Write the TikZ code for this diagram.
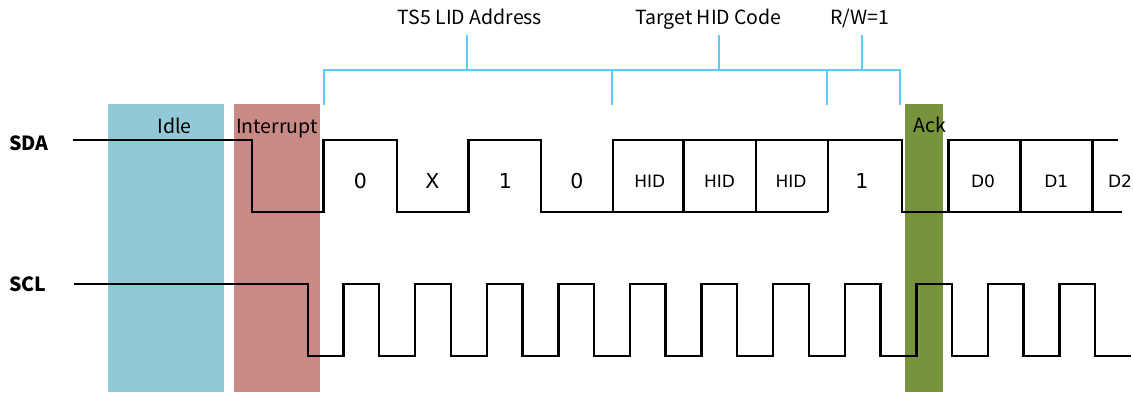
\documentclass[tikz,border=0pt]{standalone}
\usepackage{fontspec}
\setmainfont{Noto Sans CJK SC}
\newfontfamily\bitfont{DejaVu Sans}
\definecolor{idlec}{RGB}{146,201,214}
\definecolor{intc}{RGB}{201,138,133}
\definecolor{ackc}{RGB}{119,147,60}
\definecolor{brc}{RGB}{94,203,245}
\begin{document}
\begin{tikzpicture}[x=1pt,y=-1pt,
  sig/.style={line width=2.5pt,line join=miter,black},
  brk/.style={line width=2.4pt,brc},
  lab/.style={anchor=base,inner sep=0pt,font=\fontsize{19.5}{23}\selectfont},
  signame/.style={anchor=base west,inner sep=0pt,font=\fontsize{19.5}{23}\selectfont\bfseries},
  bit/.style={anchor=base,inner sep=0pt,font=\bitfont\fontsize{20.5}{24}\selectfont},
  hid/.style={anchor=base,inner sep=0pt,font=\bitfont\fontsize{17}{20}\selectfont}]
\useasboundingbox (0,0) rectangle (1133,392);
% phase boxes
\fill[idlec] (108,104) rectangle (224,392);
\fill[intc] (234,104) rectangle (320,392);
\fill[ackc] (905,104) rectangle (943,392);
% bracket
\coordinate (bL) at (324,105);
\coordinate (bR) at (900,105);
\draw[brk] (bL) -- (324,70) -- (900,70) -- (bR);
\draw[brk] (612,70) -- (612,105);
\draw[brk] (827,70) -- (827,105);
\draw[brk] (467,70) -- (467,35);
\draw[brk] (719,70) -- (719,35);
\draw[brk] (862,70) -- (862,35);
\node[lab] (tLID) at (470,24) {TS5 LID Address};
\node[lab] (tHID) at (708.5,24) {Target HID Code};
\node[lab] (tRW) at (859.5,24) {R/W=1};
% phase labels
\node[lab] (lIdle) at (174.5,133) {Idle};
\node[lab] (lInt) at (277,133) {Interrupt};
\node[lab] (lAck) at (930,132.5) {Ack};
% signal names
\node[signame] (nSDA) at (9,150.5) {SDA};
\node[signame] (nSCL) at (9,291.5) {SCL};
% SDA
\draw[sig] (72.7,140) -- (252,140) -- (252,212) -- (323.5,212) -- (323.5,140)
  -- (397,140) -- (397,212) -- (468.5,212) -- (468.5,140) -- (541,140)
  -- (541,212) -- (613,212) -- (613,140) -- (902,140) -- (902,212) -- (1121.5,212);
\draw[sig] (613,212) -- (828,212);
\draw[sig] (683.5,140) -- (683.5,212);
\draw[sig] (756,140) -- (756,212);
\draw[sig] (828,140) -- (828,212);
\draw[sig] (948.3,212) -- (948.3,140) -- (1118,140);
\draw[sig] (1020.7,140) -- (1020.7,212);
\draw[sig] (1092.7,140) -- (1092.7,212);
% bit labels
\node[bit] (b0) at (360.5,188.3) {0};
\node[bit] (b1) at (432.5,188.3) {X};
\node[bit] (b2) at (505.5,188.3) {1};
\node[bit] (b3) at (577,188.3) {0};
\node[hid] (h1) at (649.7,187) {HID};
\node[hid] (h2) at (719.5,187) {HID};
\node[hid] (h3) at (791,187) {HID};
\node[bit] (b7) at (862,188.3) {1};
\node[hid] (d0) at (983,187) {D0};
\node[hid] (d1) at (1056.3,187) {D1};
\node[hid] (d2) at (1120,187) {D2};
% SCL
\draw[sig] (74,284) -- (308,284) -- (308,356)
  -- (343.6,356) -- (343.6,284) -- (379.2,284) -- (379.2,356)
  -- (415.2,356) -- (415.2,284) -- (450.8,284) -- (450.8,356)
  -- (486.8,356) -- (486.8,284) -- (522.4,284) -- (522.4,356)
  -- (558.4,356) -- (558.4,284) -- (594.0,284) -- (594.0,356)
  -- (630.0,356) -- (630.0,284) -- (665.6,284) -- (665.6,356)
  -- (701.6,356) -- (701.6,284) -- (737.2,284) -- (737.2,356)
  -- (773.2,356) -- (773.2,284) -- (808.8,284) -- (808.8,356)
  -- (844.8,356) -- (844.8,284) -- (880.4,284) -- (880.4,356)
  -- (916.4,356) -- (916.4,284) -- (952.0,284) -- (952.0,356)
  -- (988.0,356) -- (988.0,284) -- (1023.6,284) -- (1023.6,356)
  -- (1059.6,356) -- (1059.6,284) -- (1095.2,284) -- (1095.2,356)
  -- (1131,356);
\end{tikzpicture}
\end{document}
